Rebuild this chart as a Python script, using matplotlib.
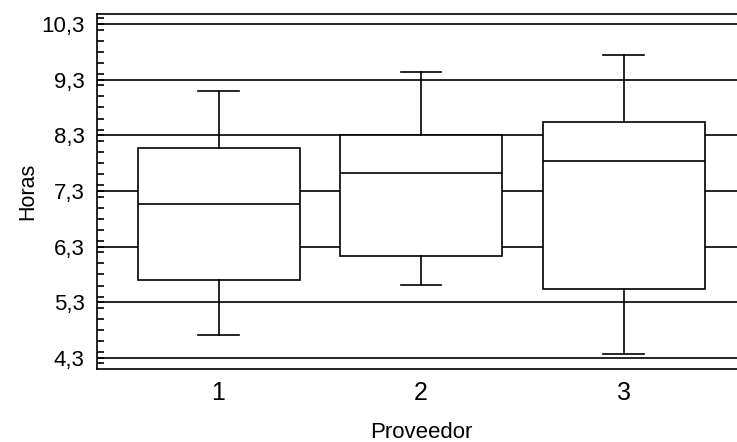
import matplotlib.pyplot as plt
from matplotlib.ticker import MultipleLocator, FuncFormatter

# datos (horas por proveedor)
proveedores = ['1', '2', '3']
bigote_inf = [4.71, 5.61, 4.37]
q1 = [5.70, 6.13, 5.54]
mediana = [7.07, 7.62, 7.84]
q3 = [8.07, 8.31, 8.54]
bigote_sup = [9.10, 9.44, 9.74]

y_ticks = [4.3, 5.3, 6.3, 7.3, 8.3, 9.3, 10.3]

plt.rcParams['font.family'] = ['Liberation Sans', 'DejaVu Sans']

stats = []
for i in range(len(proveedores)):
    stats.append({'whislo': bigote_inf[i], 'q1': q1[i], 'med': mediana[i],
                  'q3': q3[i], 'whishi': bigote_sup[i], 'label': proveedores[i]})

fig = plt.figure(figsize=(7.37, 4.42), dpi=100)
ax = fig.add_axes([97 / 737, 1 - 369 / 442, 648 / 737, 355 / 442])

lw = 1.2
ax.bxp(stats, positions=[1, 2, 3], widths=0.8, showfliers=False,
       patch_artist=True,
       boxprops=dict(facecolor='white', edgecolor='black', linewidth=lw),
       medianprops=dict(color='black', linewidth=lw),
       whiskerprops=dict(color='black', linewidth=lw),
       capprops=dict(color='black', linewidth=lw),
       capwidths=0.2, zorder=3)

ax.set_xlim(0.4, 3.6)
ax.set_ylim(4.1, 10.48)

ax.set_yticks(y_ticks)
ax.yaxis.set_minor_locator(MultipleLocator(0.2))
ax.yaxis.set_major_formatter(FuncFormatter(lambda v, p: f'{v:.1f}'.replace('.', ',')))
ax.grid(axis='y', color='black', linewidth=lw, zorder=0)
ax.set_axisbelow(True)

ax.tick_params(axis='y', which='both', direction='in', length=5, width=lw,
               labelsize=16, pad=9)
ax.tick_params(axis='x', length=0, labelsize=18, pad=9)

for s in ax.spines.values():
    s.set_linewidth(lw)

ax.set_xlabel('Proveedor', fontsize=16, labelpad=12)
ax.set_ylabel('Horas', fontsize=15.5, labelpad=2)

fig.savefig('out.png', dpi=100)
